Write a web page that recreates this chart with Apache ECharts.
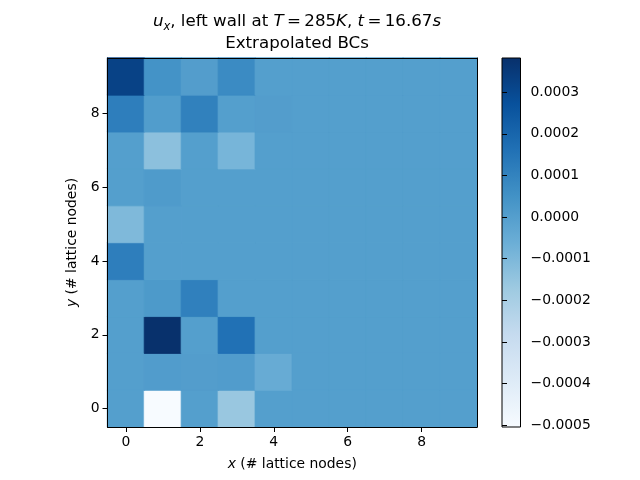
<!DOCTYPE html>
<html>
<head>
<meta charset="utf-8">
<script src="https://cdn.jsdelivr.net/npm/echarts@6/dist/echarts.min.js"></script>
<style>
  html, body { margin: 0; padding: 0; background: #fff; }
  #chart { width: 640px; height: 480px; }
</style>
</head>
<body>
<div id="chart"></div>
<script>
// lattice node indices
const xNodes = ['0', '1', '2', '3', '4', '5', '6', '7', '8', '9'];
const yNodes = ['0', '1', '2', '3', '4', '5', '6', '7', '8', '9'];

// u_x per row, row y=0 first, columns x=0..9
const uxRow0 = [0, -0.000504, 0, -0.00016, 0, 0, 0, 0, 0, 0];
const uxRow1 = [0, 0.00001, 0.000005, 0.00001, -0.00005, 0, 0, 0, 0, 0];
const uxRow2 = [0, 0.00038, 0, 0.00016, 0, 0, 0, 0, 0, 0];
const uxRow3 = [0, 0.00002, 0.00011, 0, 0, 0, 0, 0, 0, 0];
const uxRow4 = [0.000116, 0, 0, 0, 0, 0, 0, 0, 0, 0];
const uxRow5 = [-0.000105, 0, 0, 0, 0, 0, 0, 0, 0, 0];
const uxRow6 = [0, 0.000015, 0, 0, 0, 0, 0, 0, 0, 0];
const uxRow7 = [0, -0.000132, 0, -0.000088, 0, 0, 0, 0, 0, 0];
const uxRow8 = [0.000116, 0.000008, 0.000107, 0, 0.000005, 0, 0, 0, 0, 0];
const uxRow9 = [0.00032, 0.000045, 0.000005, 0.000072, 0, 0, 0, 0, 0, 0];
const uxRows = [uxRow0, uxRow1, uxRow2, uxRow3, uxRow4, uxRow5, uxRow6, uxRow7, uxRow8, uxRow9];

// colorbar
const cMin = -0.000504;
const cMax = 0.000382;
const colorbarTicks = [-0.0005, -0.0004, -0.0003, -0.0002, -0.0001, 0, 0.0001, 0.0002, 0.0003];
const blues = ['#f7fbff', '#deebf7', '#c6dbef', '#9ecae1', '#6baed6', '#4292c6', '#2171b5', '#08519c', '#08306b'];

const font = 'DejaVu Sans';
const tickSize = 13.9;

function bluesColor(v) {
    let t = (v - cMin) / (cMax - cMin);
    t = Math.max(0, Math.min(1, t));
    return echarts.color.lerp(t, blues);
}

// each cell gets its colormap colour, border in the same colour to hide seams
let heatData = [];
uxRows.forEach((row, y) => {
    row.forEach((v, x) => {
        const c = bluesColor(v);
        heatData.push({ value: [x, y, v], itemStyle: { color: c, borderColor: c, borderWidth: 0.8 } });
    });
});

// gradient for the colorbar, top = max
const gradStops = blues.map((c, i) => ({ offset: 1 - i / (blues.length - 1), color: c }));

function fmtTick(v) {
    return v.toFixed(4).replace('-', '\u2212');
}

const chart = echarts.init(document.getElementById('chart'));

const option = {
    backgroundColor: '#fff',
    animation: false,
    title: {
        text: '{i|u}{s|x}, left wall at {i|T}\u2009=\u2009285{i|K}, {i|t}\u2009=\u200916.67{i|s}\nExtrapolated BCs',
        left: 292,
        top: 6,
        textAlign: 'center',
        textStyle: {
            fontFamily: font,
            fontWeight: 'normal',
            fontSize: 16.67,
            color: '#000',
            lineHeight: 22,
            rich: {
                i: { fontFamily: font, fontStyle: 'italic', fontSize: 16.67, color: '#000', lineHeight: 22 },
                s: { fontFamily: font, fontStyle: 'italic', fontSize: 11.5, color: '#000', lineHeight: 22, verticalAlign: 'bottom', padding: [8, 0, 0, 0] }
            }
        }
    },
    grid: [
        { left: 107.5, right: 163, top: 58, bottom: 53 },
        { left: 502, width: 18.5, top: 58, bottom: 53 }
    ],
    xAxis: [
        {
            type: 'category', gridIndex: 0, data: xNodes, position: 'bottom', z: 10,
            name: '{i|x} (# lattice nodes)', nameLocation: 'middle', nameGap: 30,
            nameTextStyle: { fontFamily: font, fontSize: tickSize, color: '#000',
                rich: { i: { fontFamily: font, fontStyle: 'italic', fontSize: tickSize, color: '#000' } } },
            axisLine: { show: true, lineStyle: { color: '#000', width: 1 } },
            axisTick: { show: true, interval: 1, alignWithLabel: true, length: 5, lineStyle: { color: '#000' } },
            axisLabel: { interval: 1, margin: 8, fontFamily: font, fontSize: tickSize, color: '#000' },
            splitLine: { show: false }
        },
        {
            type: 'category', gridIndex: 0, data: xNodes, position: 'top', z: 10,
            axisLine: { show: true, lineStyle: { color: '#000', width: 1 } },
            axisTick: { show: false }, axisLabel: { show: false }, splitLine: { show: false }
        },
        {
            type: 'value', gridIndex: 1, min: 0, max: 1, show: false
        }
    ],
    yAxis: [
        {
            type: 'category', gridIndex: 0, data: yNodes, position: 'left', z: 10,
            name: '{i|y} (# lattice nodes)', nameLocation: 'middle', nameGap: 28, nameRotate: 90,
            nameTextStyle: { fontFamily: font, fontSize: tickSize, color: '#000',
                rich: { i: { fontFamily: font, fontStyle: 'italic', fontSize: tickSize, color: '#000' } } },
            axisLine: { show: true, lineStyle: { color: '#000', width: 1 } },
            axisTick: { show: true, interval: 1, alignWithLabel: true, length: 5, lineStyle: { color: '#000' } },
            axisLabel: { interval: 1, margin: 8, fontFamily: font, fontSize: tickSize, color: '#000' },
            splitLine: { show: false }
        },
        {
            type: 'category', gridIndex: 0, data: yNodes, position: 'right', z: 10,
            axisLine: { show: true, lineStyle: { color: '#000', width: 1 } },
            axisTick: { show: false }, axisLabel: { show: false }, splitLine: { show: false }
        },
        {
            type: 'value', gridIndex: 1, min: cMin, max: cMax, position: 'right', z: 10,
            axisLine: { show: false },
            axisTick: { show: true, customValues: colorbarTicks, length: 5, lineStyle: { color: '#000' } },
            axisLabel: { customValues: colorbarTicks, margin: 10, fontFamily: font, fontSize: tickSize, color: '#000',
                formatter: fmtTick },
            splitLine: { show: false }
        }
    ],
    series: [
        {
            type: 'heatmap',
            xAxisIndex: 0,
            yAxisIndex: 0,
            data: heatData,
            emphasis: { disabled: true }
        },
        {
            type: 'custom',
            xAxisIndex: 2,
            yAxisIndex: 2,
            data: [[0, cMin, 1, cMax]],
            encode: { x: [0, 2], y: [1, 3] },
            silent: true,
            renderItem: function (params, api) {
                const p0 = api.coord([api.value(0), api.value(3)]);
                const p1 = api.coord([api.value(2), api.value(1)]);
                return {
                    type: 'rect',
                    shape: { x: p0[0], y: p0[1], width: p1[0] - p0[0], height: p1[1] - p0[1] },
                    style: {
                        fill: new echarts.graphic.LinearGradient(0, 0, 0, 1, gradStops),
                        stroke: '#000',
                        lineWidth: 1
                    }
                };
            }
        }
    ]
};

chart.setOption(option);
</script>
</body>
</html>
